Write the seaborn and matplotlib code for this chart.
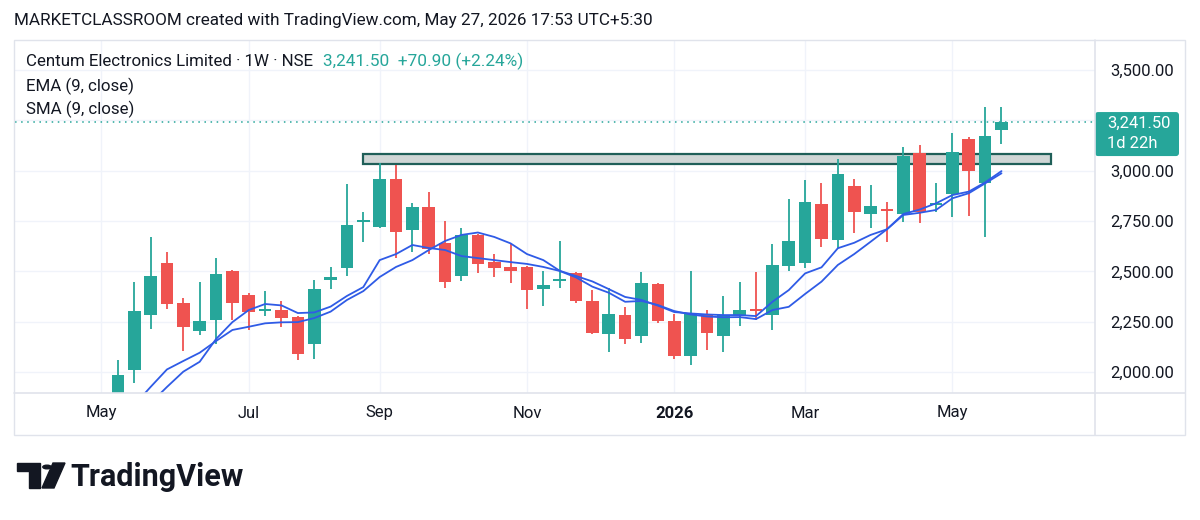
import matplotlib
matplotlib.use("Agg")
import matplotlib.pyplot as plt
import matplotlib.dates as mdates
from matplotlib.patches import Rectangle, FancyBboxPatch, Circle, Polygon
from matplotlib.transforms import IdentityTransform
from matplotlib.lines import Line2D
import pandas as pd
import seaborn as sns
import numpy as np

# weekly bars, Centum Electronics Limited (NSE), week start dates
week_start = pd.date_range("2025-05-12", periods=55, freq="7D")

opens = [1880, 2008, 2281, 2544, 2344, 2203, 2261, 2503, 2382, 2304,
         2309, 2273, 2137, 2458, 2516, 2746, 2719, 2960, 2706, 2821,
         2643, 2479, 2681, 2546, 2521, 2521, 2412, 2453, 2494, 2354,
         2190, 2284, 2177, 2438, 2255, 2081, 2288, 2180, 2281, 2311,
         2281, 2527, 2541, 2835, 2656, 2924, 2784, 2810, 2784, 3089,
         2832, 2883, 3157, 2940, 3200]
highs = [2058, 2448, 2673, 2595, 2370, 2447, 2564, 2505, 2395, 2403,
         2355, 2280, 2458, 2521, 2934, 2794, 3038, 3028, 2841, 2896,
         2750, 2714, 2685, 2587, 2635, 2525, 2503, 2651, 2497, 2408,
         2417, 2325, 2496, 2440, 2288, 2503, 2306, 2379, 2449, 2499,
         2635, 2860, 2954, 2938, 3057, 2957, 2928, 2843, 3119, 3127,
         2938, 3188, 3169, 3314, 3314]
lows = [1860, 1946, 2215, 2314, 2107, 2185, 2140, 2260, 2210, 2279,
        2223, 2058, 2065, 2413, 2478, 2645, 2715, 2568, 2595, 2585,
        2417, 2453, 2494, 2474, 2442, 2314, 2330, 2417, 2342, 2190,
        2102, 2139, 2144, 2246, 2066, 2036, 2111, 2102, 2230, 2260,
        2210, 2504, 2516, 2623, 2615, 2692, 2714, 2645, 2747, 2742,
        2797, 2772, 2775, 2673, 3131]
closes = [1987, 2304, 2478, 2339, 2223, 2254, 2486, 2344, 2296, 2312,
          2268, 2091, 2412, 2473, 2731, 2755, 2957, 2696, 2821, 2610,
          2448, 2681, 2536, 2519, 2504, 2408, 2433, 2463, 2354, 2196,
          2289, 2165, 2444, 2256, 2081, 2293, 2193, 2281, 2306, 2302,
          2532, 2653, 2846, 2661, 2982, 2794, 2826, 2800, 3074, 2794,
          2842, 3094, 3000, 3170.6, 3241.5]

# indicator values
ema9 = [1742, 1836, 1926, 2013, 2055, 2096, 2154, 2209, 2225, 2242,
        2247, 2248, 2268, 2300, 2358, 2402, 2472, 2522, 2556, 2606,
        2651, 2681, 2693, 2671, 2639, 2586, 2556, 2503, 2477, 2450,
        2412, 2373, 2358, 2330, 2298, 2291, 2286, 2283, 2283, 2278,
        2349, 2407, 2490, 2520, 2615, 2642, 2681, 2709, 2785, 2807,
        2838, 2879, 2896, 2942, 2998]
sma9 = [1687, 1767, 1846, 1926, 2002, 2051, 2164, 2248, 2308, 2338,
        2331, 2293, 2296, 2325, 2378, 2422, 2556, 2586, 2631, 2616,
        2606, 2576, 2566, 2556, 2546, 2537, 2522, 2502, 2470, 2424,
        2394, 2349, 2353, 2333, 2303, 2286, 2276, 2272, 2273, 2263,
        2308, 2324, 2388, 2449, 2532, 2586, 2647, 2709, 2780, 2791,
        2805, 2863, 2888, 2937, 2987]

# resistance zone
zone_start = "2025-08-25"
zone_end = "2026-06-15"
zone_low = 3032
zone_high = 3081

price_ticks = [2000, 2250, 2500, 2750, 3000, 3250, 3500]
month_ticks = ["2025-05-05", "2025-07-07", "2025-09-01", "2025-11-03",
               "2026-01-05", "2026-03-02", "2026-05-04"]
month_labels = ["May", "Jul", "Sep", "Nov", "2026", "Mar", "May"]

GREEN = "#26a69a"
RED = "#ef5350"
BLUE = "#2f5be6"
TXT = "#131722"
GRID = "#f0f3fa"
BORDER = "#e0e3eb"

sns.set_theme(style="white")
plt.rcParams['font.family'] = ['Roboto', 'DejaVu Sans']

fig = plt.figure(figsize=(12, 5.2), dpi=100)
W, H = 1200, 520


def fxy(x, y):
    return (x / W, 1 - y / H)


ax = fig.add_axes([15 / W, 1 - 393 / H, 1080 / W, 353 / H])

o = np.array(opens, dtype=float)
c = np.array(closes, dtype=float)
up = c >= o
cols = np.where(up, GREEN, RED)

# zone
z0 = mdates.date2num(pd.Timestamp(zone_start))
z1 = mdates.date2num(pd.Timestamp(zone_end))
ax.add_patch(Rectangle((z0, zone_low), z1 - z0, zone_high - zone_low,
                       facecolor="#cfd6d5", edgecolor="#1f5f58", lw=1.6, zorder=2))

# candles
ax.vlines(week_start, lows, highs, colors=cols, lw=1.3, zorder=3)
ax.bar(week_start, np.abs(c - o), bottom=np.minimum(o, c), width=5.4,
       color=cols, lw=0, zorder=3)

# moving averages
ma = pd.DataFrame({"week": week_start, "EMA": ema9, "SMA": sma9})
ma = ma.melt(id_vars="week", var_name="line", value_name="value")
sns.lineplot(data=ma, x="week", y="value", hue="line",
             palette={"EMA": BLUE, "SMA": BLUE}, legend=False,
             lw=1.3, ax=ax, zorder=4)

# last price dotted line
ax.axhline(closes[-1], color=GREEN, ls=(0, (1, 3)), lw=1.1, zorder=1)

ax.set_xlim(pd.Timestamp("2025-03-29"), pd.Timestamp("2026-07-04"))
ax.set_ylim(1896, 3649)
ax.set_xlabel("")
ax.set_ylabel("")

ax.yaxis.tick_right()
ax.set_yticks(price_ticks)
ax.set_yticklabels(["" if t == 3250 else f"{t:,.2f}" for t in price_ticks])
ax.tick_params(axis="y", length=0, pad=11, labelsize=12, labelcolor=TXT)

ax.set_xticks(pd.to_datetime(month_ticks))
ax.set_xticklabels(month_labels)
ax.tick_params(axis="x", length=0, pad=9, labelsize=12, labelcolor=TXT)
for lab in ax.get_xticklabels():
    if lab.get_text() == "2026":
        lab.set_fontweight("bold")

ax.grid(True, color=GRID, lw=1)
ax.set_axisbelow(True)
for s in ax.spines.values():
    s.set_visible(False)

# chart frame
fig.add_artist(Rectangle(fxy(14, 435), 1171 / W, 395 / H, transform=fig.transFigure,
                         fill=False, edgecolor=BORDER, lw=1))
fig.add_artist(Line2D([1095 / W, 1095 / W], [1 - 40 / H, 1 - 435 / H],
                      transform=fig.transFigure, color=BORDER, lw=1.2))
fig.add_artist(Line2D([14 / W, 1185 / W], [1 - 393 / H, 1 - 393 / H],
                      transform=fig.transFigure, color=BORDER, lw=1.2))

# header and legend
fig.text(*fxy(14, 21), "MARKETCLASSROOM created with TradingView.com, May 27, 2026 17:53 UTC+5:30",
         fontsize=12.3, color=TXT, va="center")
fig.text(*fxy(26, 61), "Centum Electronics Limited · 1W · NSE", fontsize=12.2, color=TXT, va="center")
fig.text(*fxy(323, 61), "3,241.50  +70.90 (+2.24%)", fontsize=12.4, color=GREEN, va="center")
fig.text(*fxy(26, 86), "EMA (9, close)", fontsize=12.2, color=TXT, va="center")
fig.text(*fxy(26, 109), "SMA (9, close)", fontsize=12.2, color=TXT, va="center")

# last price label on the price scale
fig.canvas.draw()
yc = ax.transData.transform((ax.get_xlim()[0], closes[-1]))[1]
fig.add_artist(FancyBboxPatch((1095, yc - 34), 84, 44, boxstyle="round,pad=0,rounding_size=3",
                              transform=IdentityTransform(), facecolor=GREEN, edgecolor="none"))
fig.text(1107, yc - 1, f"{closes[-1]:,.2f}", transform=IdentityTransform(),
         color="white", fontsize=12, va="center")
fig.text(1107, yc - 21, "1d 22h", transform=IdentityTransform(),
         color="white", fontsize=12, va="center")

# TradingView logo
fig.add_artist(Polygon([fxy(17, 463), fxy(40, 463), fxy(40, 488), fxy(29, 488),
                        fxy(29, 471), fxy(17, 471)], closed=True,
                       transform=fig.transFigure, color=TXT))
fig.add_artist(Circle(fxy(47, 467), 4.2 / W, transform=fig.transFigure, color=TXT))
fig.add_artist(Polygon([fxy(53, 463), fxy(65, 463), fxy(54, 488), fxy(42, 488)], closed=True,
                       transform=fig.transFigure, color=TXT))
fig.text(*fxy(70, 477), "TradingView", fontsize=22, fontweight="bold", color=TXT, va="center")

fig.savefig("out.png", dpi=100)
